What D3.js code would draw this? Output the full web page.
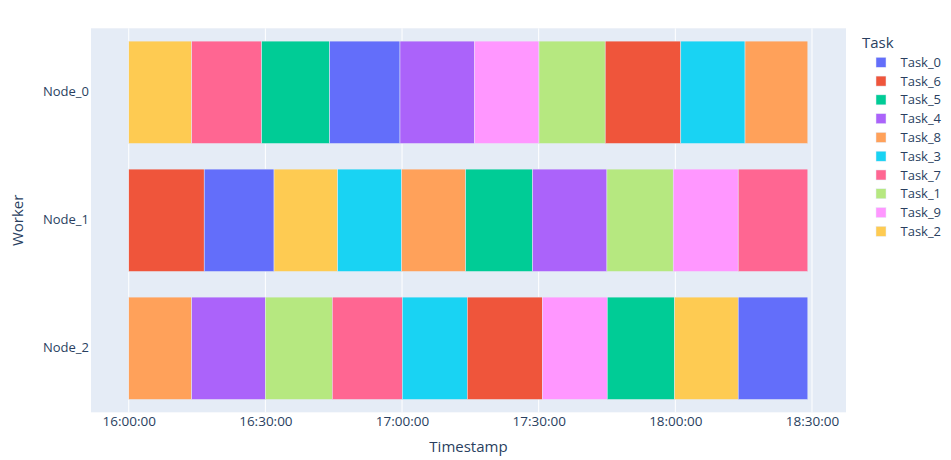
<!DOCTYPE html>
<html>
<head>
<meta charset="utf-8">
<script src="https://cdn.jsdelivr.net/npm/d3@7"></script>
<style>
  html, body { margin: 0; padding: 0; background: #ffffff; }
  svg { display: block; font-family: "Open Sans", verdana, arial, sans-serif; }
</style>
</head>
<body>
<svg id="chart" width="951" height="460"></svg>
<script>
// ---------------- DATA ----------------
const workers = ["Node_0", "Node_1", "Node_2"];
const legendTasks = ["Task_0", "Task_6", "Task_5", "Task_4", "Task_8", "Task_3", "Task_7", "Task_1", "Task_9", "Task_2"];
const taskColors = ["#636efa", "#EF553B", "#00cc96", "#ab63fa", "#FFA15A", "#19d3f3", "#FF6692", "#B6E880", "#FF97FF", "#FECB52"];

const node0Tasks = ["Task_2", "Task_7", "Task_5", "Task_0", "Task_4", "Task_9", "Task_1", "Task_6", "Task_3", "Task_8"];
const node0Times = ["16:00:00", "16:13:50", "16:29:11", "16:44:07", "16:59:33", "17:15:52", "17:30:04", "17:44:36", "18:01:12", "18:15:18", "18:29:05"];

const node1Tasks = ["Task_6", "Task_0", "Task_2", "Task_3", "Task_8", "Task_5", "Task_4", "Task_1", "Task_9", "Task_7"];
const node1Times = ["16:00:00", "16:16:34", "16:31:54", "16:45:52", "16:59:55", "17:13:58", "17:28:40", "17:44:59", "17:59:32", "18:13:48", "18:29:05"];

const node2Tasks = ["Task_8", "Task_4", "Task_1", "Task_7", "Task_3", "Task_6", "Task_9", "Task_5", "Task_2", "Task_0"];
const node2Times = ["16:00:00", "16:13:50", "16:29:59", "16:44:41", "17:00:03", "17:14:19", "17:30:47", "17:45:03", "17:59:50", "18:13:48", "18:29:05"];

const xRange = ["15:51:43", "18:37:28"];
const xTicks = ["16:00:00", "16:30:00", "17:00:00", "17:30:00", "18:00:00", "18:30:00"];

// ---------------- BUILD ----------------
const parse = d3.timeParse("%H:%M:%S");
const rows = [];
[[node0Tasks, node0Times], [node1Tasks, node1Times], [node2Tasks, node2Times]].forEach(([tasks, times], wi) => {
  tasks.forEach((t, i) => rows.push({ worker: workers[wi], task: t, start: parse(times[i]), end: parse(times[i + 1]) }));
});

const svg = d3.select("#chart");
const plot = { left: 91, right: 846, top: 28.3, bottom: 412.3 };

const x = d3.scaleTime().domain(xRange.map(parse)).range([plot.left, plot.right]);
const y = d3.scaleBand().domain(workers).range([plot.top, plot.bottom]).paddingInner(0.2).paddingOuter(0.1);
const color = d3.scaleOrdinal().domain(legendTasks).range(taskColors);

const textColor = "#2a3f5f";

// background
svg.append("rect")
  .attr("x", plot.left).attr("y", plot.top)
  .attr("width", plot.right - plot.left).attr("height", plot.bottom - plot.top)
  .attr("fill", "#E5ECF6");

// vertical grid
svg.append("g").selectAll("line").data(xTicks.map(parse)).join("line")
  .attr("x1", d => x(d)).attr("x2", d => x(d))
  .attr("y1", plot.top).attr("y2", plot.bottom)
  .attr("stroke", "#ffffff").attr("stroke-width", 1);

// bars
svg.append("g").selectAll("rect").data(rows).join("rect")
  .attr("x", d => x(d.start))
  .attr("width", d => x(d.end) - x(d.start))
  .attr("y", d => y(d.worker))
  .attr("height", y.bandwidth())
  .attr("fill", d => color(d.task))
  .attr("stroke", "#E5ECF6").attr("stroke-width", 0.5);

// x axis
const xAxis = d3.axisBottom(x).tickValues(xTicks.map(parse)).tickFormat(d3.timeFormat("%H:%M:%S")).tickSize(0).tickPadding(0);
const gx = svg.append("g").attr("transform", `translate(0,${plot.bottom})`).call(xAxis);
gx.select(".domain").remove();
gx.selectAll("text").attr("fill", textColor).attr("font-size", 13.5).attr("dy", null).attr("y", 13.8)
  .attr("font-family", '"Open Sans", verdana, arial, sans-serif');

// y axis
const yAxis = d3.axisLeft(y).tickSize(0).tickPadding(0);
const gy = svg.append("g").attr("transform", `translate(${plot.left - 2},0)`).call(yAxis);
gy.select(".domain").remove();
gy.selectAll("text").attr("fill", textColor).attr("font-size", 13)
  .attr("font-family", '"Open Sans", verdana, arial, sans-serif');

// axis titles
svg.append("text").attr("x", (plot.left + plot.right) / 2).attr("y", 452)
  .attr("text-anchor", "middle").attr("fill", textColor).attr("font-size", 15).text("Timestamp");
svg.append("text").attr("transform", `translate(23,${(plot.top + plot.bottom) / 2}) rotate(-90)`)
  .attr("text-anchor", "middle").attr("fill", textColor).attr("font-size", 15).text("Worker");

// legend
const lg = svg.append("g");
lg.append("text").attr("x", 862).attr("y", 47.7).attr("fill", textColor).attr("font-size", 15).text("Task");
const items = lg.selectAll("g.item").data(legendTasks).join("g").attr("class", "item")
  .attr("transform", (d, i) => `translate(0,${62.3 + i * 18.78})`);
items.append("rect").attr("x", 876).attr("y", -5).attr("width", 10).attr("height", 10)
  .attr("fill", d => color(d)).attr("stroke", "#E5ECF6").attr("stroke-width", 0.5);
items.append("text").attr("x", 900.5).attr("y", 0).attr("dy", "0.35em")
  .attr("fill", textColor).attr("font-size", 13).text(d => d);
</script>
</body>
</html>
